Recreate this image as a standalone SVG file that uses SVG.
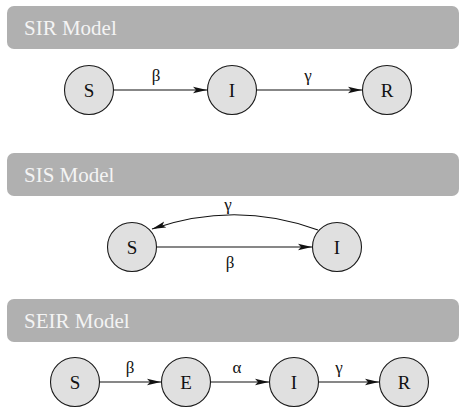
<svg xmlns="http://www.w3.org/2000/svg" width="460" height="410" viewBox="0 0 460 410">
<style>
.bar{fill:#b0b0b0}
text{font-family:"Liberation Serif",serif !important}
.title{font-size:21px;fill:#f4f4f4}
.node circle{fill:#e0e0e0;stroke:#1a1a1a;stroke-width:1.1}
.node text{font-size:19px;fill:#111;text-anchor:middle}
.edge{fill:none;stroke:#111;stroke-width:1.2;marker-end:url(#arr)}
.lbl{font-size:17px;fill:#111;text-anchor:middle}
</style>
<defs>
<marker id="arr" viewBox="0 0 14 8" refX="14" refY="4" markerWidth="14" markerHeight="8" markerUnits="userSpaceOnUse" orient="auto">
<path d="M0,0.8 L14,4 L0,7.2 L3,4 Z" fill="#111"/>
</marker>
</defs>
<g id="sir-header"><rect class="bar" x="7" y="6" width="452" height="43" rx="7"/><text class="title" style="font-family:'Liberation Serif',serif" x="24" y="35">SIR Model</text></g>
<g id="sis-header"><rect class="bar" x="7" y="153" width="452" height="43" rx="7"/><text class="title" style="font-family:'Liberation Serif',serif" x="24" y="182">SIS Model</text></g>
<g id="seir-header"><rect class="bar" x="7" y="299" width="452" height="43" rx="7"/><text class="title" style="font-family:'Liberation Serif',serif" x="24" y="328">SEIR Model</text></g>

<g id="connectors">
<line class="edge" x1="114" y1="90" x2="207" y2="90"/>
<line class="edge" x1="257" y1="90" x2="362" y2="90"/>
<line class="edge" x1="157" y1="247" x2="312" y2="247"/>
<path class="edge" d="M318,230 Q236,200 152,229"/>
<line class="edge" x1="100" y1="382" x2="161" y2="382"/>
<line class="edge" x1="211" y1="382" x2="269" y2="382"/>
<line class="edge" x1="319" y1="382" x2="379" y2="382"/>
<text class="lbl" x="156" y="81">β</text>
<text class="lbl" x="308" y="81">γ</text>
<text class="lbl" x="228" y="210">γ</text>
<text class="lbl" x="230" y="268">β</text>
<text class="lbl" x="130" y="373">β</text>
<text class="lbl" x="237" y="373">α</text>
<text class="lbl" x="339" y="373">γ</text>
</g>

<g id="sir-S" class="node"><circle cx="89" cy="90" r="24.5"/><text x="89" y="97">S</text></g>
<g id="sir-I" class="node"><circle cx="232" cy="90" r="24.5"/><text x="232" y="97">I</text></g>
<g id="sir-R" class="node"><circle cx="387" cy="90" r="24.5"/><text x="387" y="97">R</text></g>

<g id="sis-S" class="node"><circle cx="132" cy="247" r="24.5"/><text x="132" y="254">S</text></g>
<g id="sis-I" class="node"><circle cx="337" cy="247" r="24.5"/><text x="337" y="254">I</text></g>

<g id="seir-S" class="node"><circle cx="75" cy="382" r="24.5"/><text x="75" y="389">S</text></g>
<g id="seir-E" class="node"><circle cx="186" cy="382" r="24.5"/><text x="186" y="389">E</text></g>
<g id="seir-I" class="node"><circle cx="294" cy="382" r="24.5"/><text x="294" y="389">I</text></g>
<g id="seir-R" class="node"><circle cx="404" cy="382" r="24.5"/><text x="404" y="389">R</text></g>
</svg>
